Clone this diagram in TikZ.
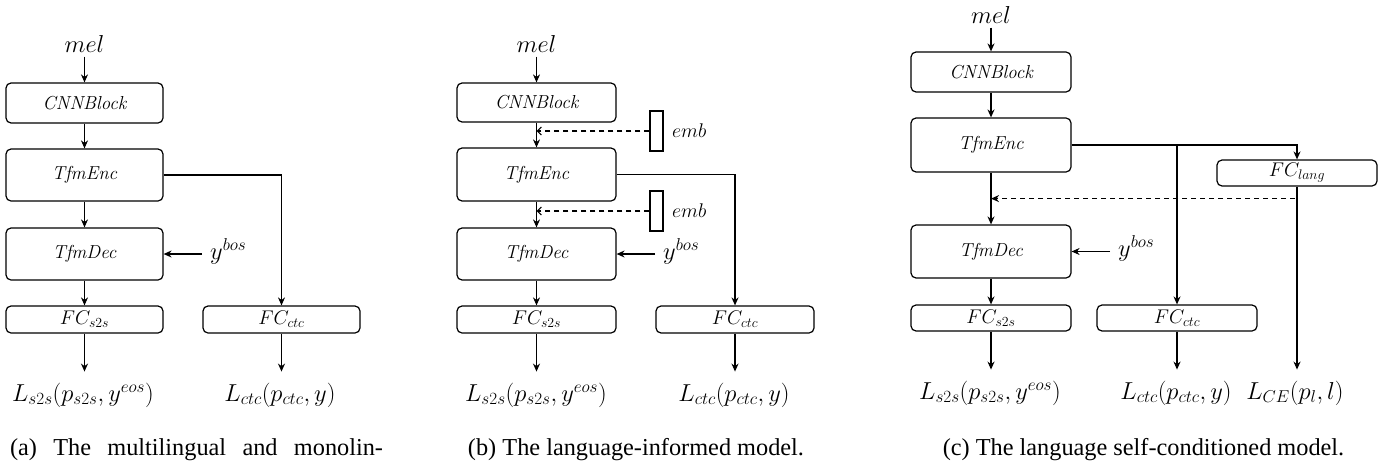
\RequirePackage{fix-cm}
\documentclass[tikz,border=0pt]{standalone}
\usepackage[no-math]{fontspec}
\setmainfont{Liberation Serif}
\newfontfamily\lmrm{Latin Modern Roman}
\usetikzlibrary{arrows.meta,calc}
\newcommand\bxfont{\lmrm\itshape\fontsize{18.8}{22}\selectfont}
\newcommand\fcfont{\fontsize{19.8}{23}\selectfont}
\newcommand\lbfont{\fontsize{24.5}{29}\selectfont}
\newcommand\cpfont{\fontsize{24.3}{29}\selectfont}
\tikzset{
  blk/.style={draw, rounded corners=5, line width=1.2, inner sep=0, font=\bxfont},
  fcblk/.style={blk, font=\fcfont, minimum height=27, minimum width=157},
  bigblk/.style={blk, minimum width=157},
  lbl/.style={inner xsep=0, inner ysep=0, font=\lbfont},
  loss/.style={lbl, inner ysep=11},
  arr/.style={line width=1.2, -{Stealth[length=8,width=7]}},
  darr/.style={line width=1.2, dash pattern=on 5 off 4, -{Straight Barb[length=4,width=8]}},
  dfarr/.style={line width=1.2, dash pattern=on 5 off 4, -{Stealth[length=8,width=7]}},
  embbox/.style={draw, line width=1.2, minimum width=13, minimum height=40, inner sep=0},
  embtxt/.style={font=\fcfont, anchor=west, inner sep=0},
  captxt/.style={font=\cpfont, inner sep=0}
}
\begin{document}
\begin{tikzpicture}[x=1pt,y=-1pt]
\useasboundingbox (0,0) rectangle (1396,466);
% ---------- (a) ----------
\node[lbl, inner ysep=4] (melA) at (84.5,44) {$mel$};
\node[bigblk, minimum height=40] (cnnA) at (84.5,103) {CNNBlock};
\node[bigblk, minimum height=52] (encA) at (84.5,175) {TfmEnc};
\node[bigblk, minimum height=52] (decA) at (84.5,254) {TfmDec};
\node[fcblk] (fcsA) at (84.5,319.5) {$FC_{s2s}$};
\node[fcblk] (fccA) at (281.5,319.5) {$FC_{ctc}$};
\node[lbl, inner xsep=8, anchor=west] (ybA) at (202,251) {$y^{bos}$};
\node[loss] (lsA) at (83,395) {$L_{s2s}(p_{s2s},y^{eos})$};
\node[loss] (lcA) at (280,395) {$L_{ctc}(p_{ctc},y)$};
\draw[arr] (melA) -- (cnnA);
\draw[arr] (cnnA) -- (encA);
\draw[arr] (encA) -- (decA);
\draw[arr] (decA) -- (fcsA);
\draw[arr] (fcsA.south) -- (fcsA.south |- lsA.north);
\draw[arr] (encA.east) -| (fccA.north);
\draw[arr] (fccA.south) -- (fccA.south |- lcA.north);
\draw[arr] (decA.east -| ybA.west) -- (decA.east);
\node[captxt] (capA) at (196.5,450) {\makebox[373pt][s]{(a) The multilingual and monolin-}};
% ---------- (b) ----------
\node[lbl, inner ysep=4] (melB) at (536.5,44) {$mel$};
\node[bigblk, minimum width=159, minimum height=39] (cnnB) at (536.5,102.5) {CNNBlock};
\node[bigblk, minimum width=159, minimum height=53] (encB) at (536.5,174.5) {TfmEnc};
\node[bigblk, minimum width=159, minimum height=52] (decB) at (536.5,254) {TfmDec};
\node[fcblk, minimum width=159] (fcsB) at (536.5,319.5) {$FC_{s2s}$};
\node[fcblk, minimum width=158] (fccB) at (735,319.5) {$FC_{ctc}$};
\node[embbox] (e1B) at (656.5,131) {};
\node[embtxt] (e1tB) at (672,131) {$emb$};
\node[embbox] (e2B) at (656.5,211) {};
\node[embtxt] (e2tB) at (672,211) {$emb$};
\node[lbl, inner xsep=8, anchor=west] (ybB) at (655,251) {$y^{bos}$};
\node[loss] (lsB) at (536,395) {$L_{s2s}(p_{s2s},y^{eos})$};
\node[loss] (lcB) at (734,395) {$L_{ctc}(p_{ctc},y)$};
\draw[arr] (melB) -- (cnnB);
\draw[arr] (cnnB) -- (encB);
\draw[arr] (encB) -- (decB);
\draw[arr] (decB) -- (fcsB);
\draw[arr] (fcsB.south) -- (fcsB.south |- lsB.north);
\draw[arr] (encB.east) -| (fccB.north);
\draw[arr] (fccB.south) -- (fccB.south |- lcB.north);
\draw[arr] (decB.east -| ybB.west) -- (decB.east);
\draw[darr] (e1B.west) -- (e1B.west -| cnnB.south);
\draw[darr] (e2B.west) -- (e2B.west -| encB.south);
\node[captxt] (capB) at (636,450) {(b) The language-informed model.};
% ---------- (c) ----------
\node[lbl, inner ysep=4] (melC) at (991,15) {$mel$};
\node[blk, minimum width=160, minimum height=40] (cnnC) at (991,72) {CNNBlock};
\node[blk, minimum width=160, minimum height=54] (encC) at (991,145) {TfmEnc};
\node[blk, minimum width=160, minimum height=53] (decC) at (991,251.5) {TfmDec};
\node[fcblk, minimum width=160, minimum height=26] (flC) at (1297,173) {$FC_{lang}$};
\node[fcblk, minimum width=160, minimum height=26] (fcsC) at (991,318) {$FC_{s2s}$};
\node[fcblk, minimum width=160, minimum height=26] (fccC) at (1177,318) {$FC_{ctc}$};
\node[lbl, inner xsep=8, anchor=west] (ybC) at (1110,248) {$y^{bos}$};
\node[loss] (lsC) at (990,393) {$L_{s2s}(p_{s2s},y^{eos})$};
\node[loss] (lcC) at (1176,393) {$L_{ctc}(p_{ctc},y)$};
\node[loss] (lceC) at (1295,393) {$L_{CE}(p_{l},l)$};
\draw[arr] (melC) -- (cnnC);
\draw[arr] (cnnC) -- (encC);
\draw[arr] (encC) -- (decC);
\draw[arr] (decC) -- (fcsC);
\draw[arr] (fcsC.south) -- (fcsC.south |- lsC.north);
\draw[arr] (encC.east) -| (flC.north);
\draw[arr] (encC.east -| fccC.north) -- (fccC.north);
\draw[arr] (fccC.south) -- (fccC.south |- lcC.north);
\draw[arr] (flC.south) -- (flC.south |- lceC.north);
\draw[arr] (decC.east -| ybC.west) -- (decC.east);
\coordinate (dsC) at ($(flC.south)+(-2,12)$);
\draw[dfarr] (dsC) -- (dsC -| encC.south);
\node[captxt] (capC) at (1143.5,450) {(c) The language self-conditioned model.};
\end{tikzpicture}
\end{document}
